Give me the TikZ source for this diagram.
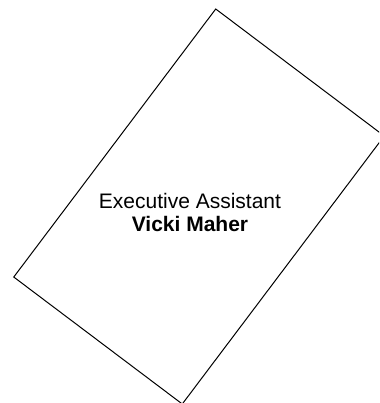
\documentclass[tikz,border=0pt]{standalone}
\usepackage{fontspec}
\setmainfont{Liberation Sans}
\begin{document}
\begin{tikzpicture}[x=1pt,y=-1pt,
  cardbox/.style={draw=black,line width=1pt,fill=none,rotate=-37,
    minimum width=211pt,minimum height=335.6pt,inner sep=0pt},
  cardtext/.style={align=center,inner sep=0pt,font=\fontsize{21}{23}\selectfont}]
\useasboundingbox (0,0) rectangle (379,403);
\clip (0,0) rectangle (379,403);
\node[cardbox] (box) at (199,206.5) {};
\node[cardtext,anchor=base] (label) at (190,231) {Executive Assistant\\\textbf{Vicki Maher}};
\end{tikzpicture}
\end{document}
